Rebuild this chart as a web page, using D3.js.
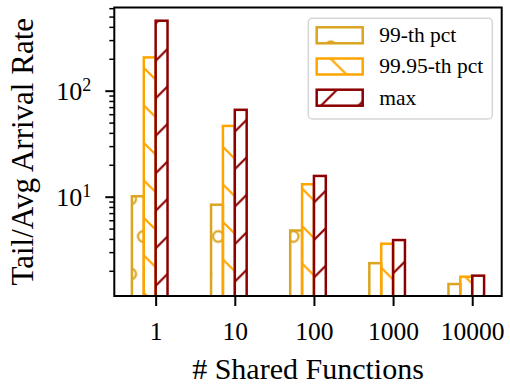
<!DOCTYPE html>
<html>
<head>
<meta charset="utf-8">
<script src="https://d3js.org/d3.v7.min.js"></script>
<style>
  body { margin: 0; background: #fff; }
  svg text { font-family: "Liberation Serif", "DejaVu Serif", serif; fill: #000; }
</style>
</head>
<body>
<div id="chart"></div>
<script>
// data
var categories = ["1", "10", "100", "1000", "10000"];
var seriesNames = ["99-th pct", "99.95-th pct", "max"];
var p99 = [10.1, 8.4, 4.8, 2.36, 1.5];
var p9995 = [206, 46.5, 13.1, 3.6, 1.76];
var pmax = [457, 66, 15.7, 3.9, 1.8];
var yMajor = [10, 100];
var yMinor = [2, 3, 4, 5, 6, 7, 8, 9, 20, 30, 40, 50, 60, 70, 80, 90, 200, 300, 400, 500, 600];

var width = 510, height = 386;
var plotL = 114.3, plotR = 501.7, plotT = 7.5, plotB = 296;
var barW = 0.15;

var colors = ["#DAA520", "#FFA500", "#8B0000"];
var hatchIds = ["hatch-o", "hatch-bs", "hatch-fs"];
var series = [p99, p9995, pmax];

var svg = d3.select("#chart").append("svg")
    .attr("width", width)
    .attr("height", height);

var x = d3.scaleLinear()
    .domain([-2 * barW - 0.2225, categories.length - 1 + barW + 0.2225])
    .range([plotL, plotR]);
var y = d3.scaleLog()
    .domain([1.157, 609])
    .range([plotB, plotT]);

// hatch patterns (anchored to the page like matplotlib's)
var defs = svg.append("defs");
var P = 37.5;
var pc = defs.append("pattern").attr("id", "hatch-o")
    .attr("patternUnits", "userSpaceOnUse")
    .attr("x", 143.3).attr("y", 236.5)
    .attr("width", P).attr("height", 2 * P);
[[0, 0], [P, 0], [0, 2 * P], [P, 2 * P], [P - 12.5, P]].forEach(function(c) {
  pc.append("circle").attr("cx", c[0]).attr("cy", c[1]).attr("r", 5.3)
    .attr("fill", "none").attr("stroke", colors[0]).attr("stroke-width", 2.2);
});
defs.append("pattern").attr("id", "hatch-bs")
    .attr("patternUnits", "userSpaceOnUse")
    .attr("x", 1).attr("y", 0)
    .attr("width", P).attr("height", P)
  .append("path")
    .attr("d", "M-2,-2L" + (P + 2) + "," + (P + 2) + "M" + (P - 2) + ",-2L" + (P + 2) + ",2M-2," + (P - 2) + "L2," + (P + 2))
    .attr("stroke", colors[1]).attr("stroke-width", 2.2);
defs.append("pattern").attr("id", "hatch-fs")
    .attr("patternUnits", "userSpaceOnUse")
    .attr("x", 29).attr("y", 0)
    .attr("width", P).attr("height", P)
  .append("path")
    .attr("d", "M-2," + (P + 2) + "L" + (P + 2) + ",-2M-2,2L2,-2M" + (P - 2) + "," + (P + 2) + "L" + (P + 2) + "," + (P - 2))
    .attr("stroke", colors[2]).attr("stroke-width", 2.2);

defs.append("clipPath").attr("id", "plot-clip")
  .append("rect")
    .attr("x", plotL).attr("y", plotT)
    .attr("width", plotR - plotL).attr("height", plotB - plotT);

// bars
var bars = svg.append("g").attr("clip-path", "url(#plot-clip)");
series.forEach(function(vals, s) {
  bars.selectAll(".bar" + s)
    .data(vals)
    .enter()
    .append("rect")
      .attr("x", function(d, i) { return x(i + (s - 2) * barW); })
      .attr("width", function(d, i) { return x(i + (s - 1) * barW) - x(i + (s - 2) * barW); })
      .attr("y", function(d) { return y(d); })
      .attr("height", function(d) { return plotB + 5 - y(d); })
      .attr("fill", "url(#" + hatchIds[s] + ")")
      .attr("stroke", colors[s])
      .attr("stroke-width", 2.5);
});

// axes
var xAxis = svg.append("g")
    .attr("transform", "translate(0," + plotB + ")")
    .call(d3.axisBottom(x)
      .tickValues(d3.range(categories.length))
      .tickFormat(function(i) { return categories[i]; })
      .tickSize(10)
      .tickPadding(16));
xAxis.select(".domain").remove();
xAxis.selectAll(".tick line").attr("stroke-width", 2);
xAxis.selectAll(".tick text")
    .attr("font-size", 25.5)
    .attr("font-family", "Liberation Serif");

var yMinorAxis = svg.append("g")
    .attr("transform", "translate(" + plotL + ",0)")
    .call(d3.axisLeft(y).tickValues(yMinor).tickFormat("").tickSize(5));
yMinorAxis.select(".domain").remove();
yMinorAxis.selectAll(".tick line").attr("stroke-width", 1.5);

var yAxis = svg.append("g")
    .attr("transform", "translate(" + plotL + ",0)")
    .call(d3.axisLeft(y).tickValues(yMajor).tickFormat("").tickSize(9));
yAxis.select(".domain").remove();
yAxis.selectAll(".tick line").attr("stroke-width", 2);
yAxis.selectAll(".tick").each(function(d) {
  var t = d3.select(this).append("text")
      .attr("x", -23)
      .attr("dy", "0.35em")
      .attr("text-anchor", "end")
      .attr("font-size", 26)
      .attr("font-family", "Liberation Serif");
  t.append("tspan").text("10");
  t.append("tspan").text(Math.round(Math.log10(d)))
      .attr("font-size", 18)
      .attr("dy", "-0.5em");
});

// frame
svg.append("rect")
    .attr("x", plotL).attr("y", plotT)
    .attr("width", plotR - plotL).attr("height", plotB - plotT)
    .attr("fill", "none")
    .attr("stroke", "#000")
    .attr("stroke-width", 2);

// axis titles
svg.append("text")
    .attr("x", (plotL + plotR) / 2)
    .attr("y", 379)
    .attr("text-anchor", "middle")
    .attr("font-size", 30)
    .text("# Shared Functions");
svg.append("text")
    .attr("transform", "translate(33," + (plotT + plotB) / 2 + ") rotate(-90)")
    .attr("text-anchor", "middle")
    .attr("font-size", 31)
    .text("Tail/Avg Arrival Rate");

// legend
var legend = svg.append("g");
legend.append("rect")
    .attr("x", 308.3).attr("y", 18.3)
    .attr("width", 184).attr("height", 100.7)
    .attr("rx", 4)
    .attr("fill", "#fff").attr("fill-opacity", 0.8)
    .attr("stroke", "#d6d6d6").attr("stroke-width", 1.5);
var rows = legend.selectAll(".lg")
    .data(seriesNames)
    .enter()
    .append("g")
      .attr("transform", function(d, i) { return "translate(0," + (35.3 + i * 31.2) + ")"; });
rows.append("rect")
    .attr("x", 316.7).attr("y", -8)
    .attr("width", 46).attr("height", 16)
    .attr("fill", function(d, i) { return "url(#" + hatchIds[i] + ")"; })
    .attr("stroke", function(d, i) { return colors[i]; })
    .attr("stroke-width", 2.5);
rows.append("text")
    .attr("x", 379.3)
    .attr("dy", "0.32em")
    .attr("font-size", 21.5)
    .text(function(d) { return d; });
</script>
</body>
</html>
